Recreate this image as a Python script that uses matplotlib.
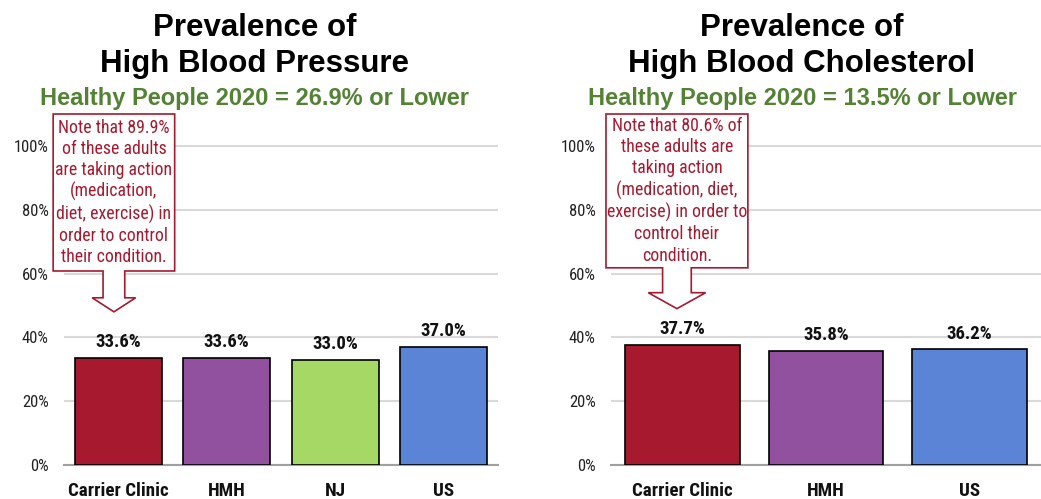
import matplotlib.pyplot as plt
from matplotlib.patches import Polygon

# Data
bp_labels = ['Carrier Clinic', 'HMH', 'NJ', 'US']
bp_values = [33.6, 33.6, 33.0, 37.0]
bp_colors = ['#A6192E', '#91519E', '#A6D866', '#5B84D6']

chol_labels = ['Carrier Clinic', 'HMH', 'US']
chol_values = [37.7, 35.8, 36.2]
chol_colors = ['#A6192E', '#91519E', '#5B84D6']

bp_note = 'Note that 89.9%\nof these adults\nare taking action\n(medication,\ndiet, exercise) in\norder to control\ntheir condition.'
chol_note = 'Note that 80.6% of\nthese adults are\ntaking action\n(medication, diet,\nexercise) in order to\ncontrol their\ncondition.'

yticks = [0, 20, 40, 60, 80, 100]

narrow = ['Roboto Condensed', 'Liberation Sans', 'DejaVu Sans']
plt.rcParams['font.family'] = ['Liberation Sans', 'DejaVu Sans']

RED = '#A6192E'
GREEN = '#548235'

fig = plt.figure(figsize=(10.41, 4.99), dpi=100)
ax1 = fig.add_axes([64 / 1041, 34 / 499, 434 / 1041, 351 / 499])
ax2 = fig.add_axes([611 / 1041, 34 / 499, 430 / 1041, 351 / 499])


def draw_panel(ax, labels, values, colors, note, box_w, box_bottom, head_y, tip_y):
    x = range(len(labels))
    bars = ax.bar(x, values, width=0.8, color=colors, edgecolor='black',
                  linewidth=1.2, zorder=3)
    for b, v in zip(bars, values):
        ax.annotate(f'{v:.1f}%', (b.get_x() + b.get_width() / 2, v),
                    xytext=(0, 5), textcoords='offset points', ha='center',
                    va='bottom', fontsize=13.5, fontweight='bold',
                    family=narrow, color='#111111')
    ax.set_xlim(-0.5, len(labels) - 0.5)
    ax.set_ylim(0, 110)
    ax.set_yticks(yticks)
    ax.set_yticklabels([f'{t}%' for t in yticks], family=narrow,
                       fontsize=12, fontweight='normal', color='#222222')
    ax.set_xticks(list(x))
    ax.set_xticklabels(labels, family=narrow, fontsize=13.7,
                       fontweight='bold', color='#111111')
    ax.tick_params(axis='both', length=0)
    ax.tick_params(axis='x', pad=12)
    ax.tick_params(axis='y', pad=11)
    ax.yaxis.grid(True, color='#D9D9D9', linewidth=1.5, zorder=0)
    ax.set_axisbelow(True)
    for s in ['top', 'left', 'right']:
        ax.spines[s].set_visible(False)
    ax.spines['bottom'].set_color('#A0A0A0')
    ax.spines['bottom'].set_linewidth(1.5)

    # callout box with an arrow pointing at the first bar
    cx = -0.04
    hw = box_w / 2
    sw = 0.1
    aw = 0.2
    pts = [(cx - hw, 110), (cx + hw, 110), (cx + hw, box_bottom),
           (cx + sw, box_bottom), (cx + sw, head_y), (cx + aw, head_y),
           (cx, tip_y), (cx - aw, head_y), (cx - sw, head_y),
           (cx - sw, box_bottom), (cx - hw, box_bottom)]
    ax.add_patch(Polygon(pts, closed=True, facecolor='white', edgecolor=RED,
                         linewidth=1.2, zorder=5, clip_on=False))
    ax.text(cx, (110 + box_bottom) / 2, note, ha='center', va='center',
            family=narrow, fontsize=12.8, fontweight='normal', color=RED,
            linespacing=1.22, zorder=6)


draw_panel(ax1, bp_labels, bp_values, bp_colors, bp_note, 1.12, 60.8, 52.4, 48.0)
draw_panel(ax2, chol_labels, chol_values, chol_colors, chol_note, 0.99, 61.8, 54.0, 49.0)

for cx, t1, sub in [(255, 'Prevalence of\nHigh Blood Pressure', 'Healthy People 2020 = 26.9% or Lower'),
                    (802, 'Prevalence of\nHigh Blood Cholesterol', 'Healthy People 2020 = 13.5% or Lower')]:
    fig.text(cx / 1041, 1 - 46 / 499, t1, ha='center', va='center',
             fontsize=22.5, fontweight='bold', linespacing=1.27)
    fig.text(cx / 1041, 1 - 98 / 499, sub, ha='center', va='center',
             fontsize=17, fontweight='bold', color=GREEN)

fig.savefig('out.png', dpi=100)
